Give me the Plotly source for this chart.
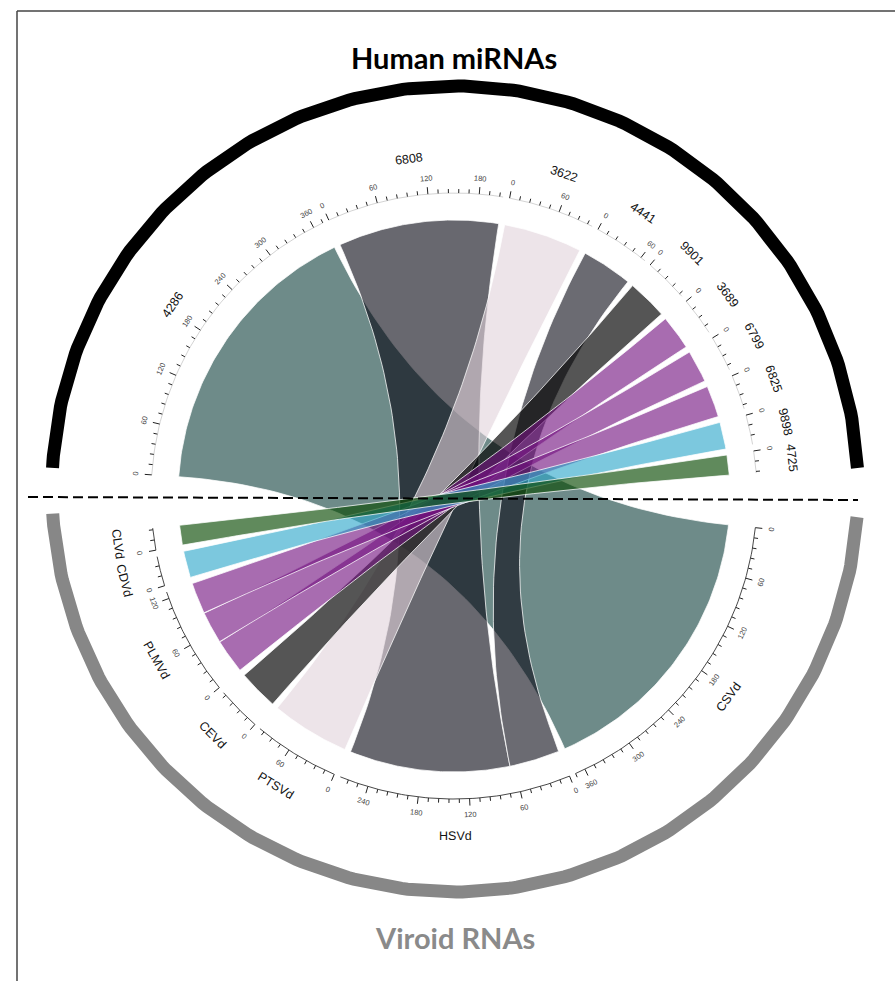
import numpy as np
import plotly.graph_objects as go

# ---------------- data ----------------
mirna_names = ["4286", "6808", "3622", "4441", "9901", "3689", "6799", "6825", "9898", "4725"]
mirna_lengths = [372, 208, 102, 66, 52, 45, 42, 41, 35, 26]
link_targets = ["CSVd", "HSVd", "PTSVd", "HSVd", "CEVd", "PLMVd", "PLMVd", "PLMVd", "CDVd", "CLVd"]
viroid_names = ["CSVd", "HSVd", "PTSVd", "CEVd", "PLMVd", "CDVd", "CLVd"]
# order in which links are stacked inside a viroid sector (first one starts at 0)
viroid_link_order = {"HSVd": ["4441", "6808"], "PLMVd": ["3689", "6799", "6825"]}

# ribbon colours as seen over white, plus opacity
link_colors = [(110, 139, 137), (104, 104, 111), (237, 228, 233), (107, 107, 114), (85, 85, 85),
               (168, 108, 176), (168, 108, 176), (168, 108, 176), (124, 200, 222), (96, 138, 92)]
link_alpha = [0.60, 0.60, 0.60, 0.60, 0.68, 0.62, 0.62, 0.62, 0.62, 0.65]

tick_major = 60
tick_minor = 12

# ---------------- geometry ----------------
W, H = 895, 981
CX, CY = 454.0, 496.0
R_LINK = 276.0
R_AXIS = 303.0
R_TICKLAB = 319.0
R_NAME = 340.0
DEG_PER_UNIT = 0.1622
GAP = 1.25
TOP_START = 176.0
BOTTOM_START = -6.0

ARC_CX, ARC_CY, ARC_R = 455.0, 489.0, 403.0

viroid_sizes = [sum(v for v, t in zip(mirna_lengths, link_targets) if t == name) for name in viroid_names]


def layout_sectors(names, sizes, start):
    out = {}
    a = start
    for n, s in zip(names, sizes):
        out[n] = (a, s)
        a = a - s * DEG_PER_UNIT - GAP
    return out


sectors = {}
sectors.update(layout_sectors(mirna_names, mirna_lengths, TOP_START))
sectors.update(layout_sectors(viroid_names, viroid_sizes, BOTTOM_START))


def pos_angle(name, p):
    return sectors[name][0] - p * DEG_PER_UNIT


def polar(r, deg, cx=CX, cy=CY):
    t = np.deg2rad(deg)
    return cx + r * np.cos(t), cy - r * np.sin(t)


def arc_pts(r, a1, a2, n=80, cx=CX, cy=CY):
    t = np.linspace(a1, a2, n)
    x, y = polar(r, t, cx, cy)
    return list(x), list(y)


def bezier(p0, p2, n=60):
    t = np.linspace(0, 1, n)
    x = (1 - t) ** 2 * p0[0] + 2 * (1 - t) * t * CX + t ** 2 * p2[0]
    y = (1 - t) ** 2 * p0[1] + 2 * (1 - t) * t * CY + t ** 2 * p2[1]
    return list(x), list(y)


fig = go.Figure()

# ---------------- ribbons ----------------
for i, (src, val, tgt) in enumerate(zip(mirna_names, mirna_lengths, link_targets)):
    order = viroid_link_order.get(tgt, [src])
    offset = 0
    for other in order:
        if other == src:
            break
        offset += mirna_lengths[mirna_names.index(other)]
    a1, a2 = pos_angle(src, 0), pos_angle(src, val)
    b1, b2 = pos_angle(tgt, offset), pos_angle(tgt, offset + val)
    # arc on the miRNA, curve to the far end of the viroid block, arc back, curve home
    xs, ys = [], []
    x, y = arc_pts(R_LINK, a1, a2); xs += x; ys += y
    x, y = bezier(polar(R_LINK, a2), polar(R_LINK, b1)); xs += x; ys += y
    x, y = arc_pts(R_LINK, b1, b2); xs += x; ys += y
    x, y = bezier(polar(R_LINK, b2), polar(R_LINK, a1)); xs += x; ys += y
    a = link_alpha[i]
    base = [max(0, min(255, (c - (1 - a) * 255) / a)) for c in link_colors[i]]
    fig.add_trace(go.Scatter(
        x=xs, y=ys, mode="lines", fill="toself",
        fillcolor=f"rgba({base[0]:.0f},{base[1]:.0f},{base[2]:.0f},{a})",
        line=dict(color="rgba(255,255,255,0.75)", width=1),
        hoverinfo="skip", showlegend=False))

# ---------------- axes (baseline + ticks) ----------------
top_bx, top_by, bot_bx, bot_by, tx, ty = [], [], [], [], [], []
annotations = []


def text_angle(deg):
    d = (deg + 180) % 360 - 180
    if d >= 0:
        return 90 - d
    return -(d + 90)


for name, (start, size) in sectors.items():
    x, y = arc_pts(R_AXIS, start, start - size * DEG_PER_UNIT, 60)
    if name in mirna_names:
        top_bx += x + [None]; top_by += y + [None]
    else:
        bot_bx += x + [None]; bot_by += y + [None]
    p = 0
    while p <= size:
        ang = pos_angle(name, p)
        major = p % tick_major == 0
        length = 7 if major else 4
        x0, y0 = polar(R_AXIS, ang)
        x1, y1 = polar(R_AXIS + length, ang)
        tx += [x0, x1, None]; ty += [y0, y1, None]
        if major:
            lx, ly = polar(R_TICKLAB, ang)
            annotations.append(dict(x=lx, y=ly, text=str(p), showarrow=False,
                                    textangle=text_angle(ang),
                                    font=dict(family="Liberation Sans", size=7.5, color="#444444"),
                                    xanchor="center", yanchor="middle"))
        p += tick_minor
    mid = start - size * DEG_PER_UNIT / 2
    nx, ny = polar(R_NAME, mid)
    annotations.append(dict(x=nx, y=ny, text=name, showarrow=False,
                            textangle=text_angle(mid),
                            font=dict(family="Liberation Sans", size=12.5, color="#111111"),
                            xanchor="center", yanchor="middle"))

fig.add_trace(go.Scatter(x=top_bx, y=top_by, mode="lines", line=dict(color="#b5b5b5", width=0.6),
                         hoverinfo="skip", showlegend=False))
fig.add_trace(go.Scatter(x=bot_bx, y=bot_by, mode="lines", line=dict(color="#333333", width=0.9),
                         hoverinfo="skip", showlegend=False))
fig.add_trace(go.Scatter(x=tx, y=ty, mode="lines", line=dict(color="#222222", width=1),
                         hoverinfo="skip", showlegend=False))

# ---------------- group arcs ----------------
x, y = arc_pts(ARC_R, 3.0, 177.0, 200, ARC_CX, ARC_CY)
fig.add_trace(go.Scatter(x=x, y=y, mode="lines", line=dict(color="#000000", width=13),
                         hoverinfo="skip", showlegend=False))
x, y = arc_pts(ARC_R, -4.0, -176.5, 200, ARC_CX, ARC_CY)
fig.add_trace(go.Scatter(x=x, y=y, mode="lines", line=dict(color="#878787", width=13),
                         hoverinfo="skip", showlegend=False))

# dividing line between the two groups
fig.add_trace(go.Scatter(x=[CX - 426, CX + 404], y=[CY + 1, CY + 4], mode="lines",
                         line=dict(color="#000000", width=2, dash="10px,5px"),
                         hoverinfo="skip", showlegend=False))

annotations.append(dict(x=CX, y=57, text="<b>Human miRNAs</b>", showarrow=False,
                        font=dict(family="Lato", size=29, color="#000000"),
                        xanchor="center", yanchor="middle"))
annotations.append(dict(x=CX + 1, y=937, text="<b>Viroid RNAs</b>", showarrow=False,
                        font=dict(family="Lato", size=29, color="#8a8a8a"),
                        xanchor="center", yanchor="middle"))

shapes = [
    dict(type="line", x0=17, x1=W, y0=11, y1=11, line=dict(color="#444444", width=1.5)),
    dict(type="line", x0=17, x1=17, y0=11, y1=H, line=dict(color="#444444", width=1.5)),
]

fig.update_layout(
    width=W, height=H, autosize=False,
    margin=dict(l=0, r=0, t=0, b=0),
    paper_bgcolor="white", plot_bgcolor="white",
    xaxis=dict(range=[0, W], visible=False, fixedrange=True),
    yaxis=dict(range=[H, 0], visible=False, fixedrange=True),
    annotations=annotations, shapes=shapes, showlegend=False,
)

fig.write_html("out.html")
